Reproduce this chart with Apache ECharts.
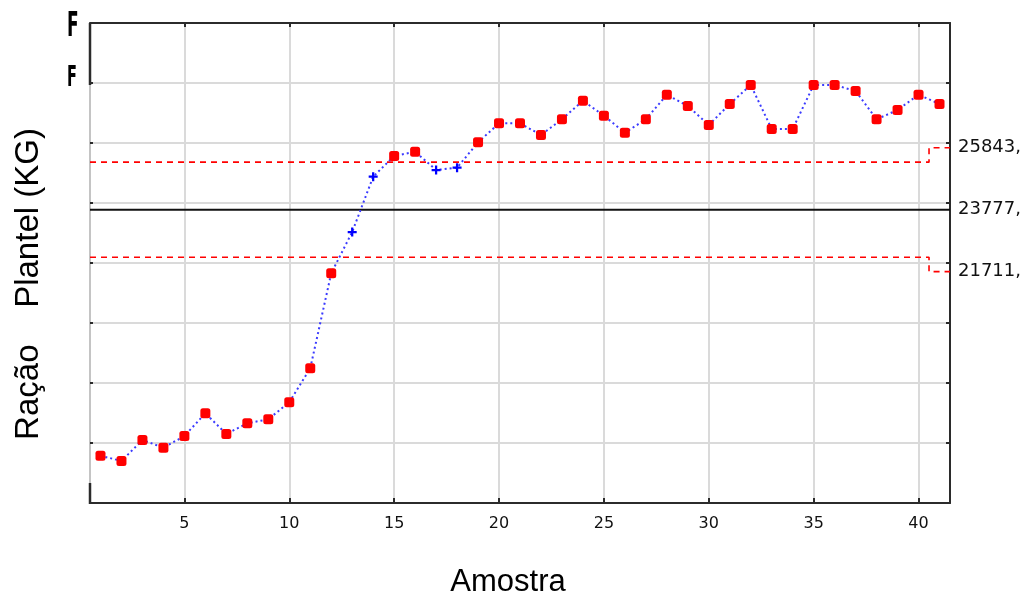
<!DOCTYPE html>
<html>
<head>
<meta charset="utf-8">
<script src="https://cdn.jsdelivr.net/npm/echarts@6/dist/echarts.min.js"></script>
<style>
  html, body { margin: 0; padding: 0; background: #ffffff; }
  #chart { width: 1026px; height: 599px; }
</style>
</head>
<body>
<div id="chart"></div>
<script>
// Sample numbers (Amostra) and the feed weight per sample (kg)
const amostra = [1, 2, 3, 4, 5, 6, 7, 8, 9, 10, 11, 12, 13, 14, 15, 16, 17, 18, 19, 20,
                 21, 22, 23, 24, 25, 26, 27, 28, 29, 30, 31, 32, 33, 34, 35, 36, 37, 38, 39, 40, 41];
const racao = [15577, 15400, 16100, 15843, 16233, 16990, 16300, 16657, 16790, 17357,
               18490, 21657, 23033, 24877, 25567, 25710, 25100, 25177, 26023, 26657,
               26657, 26267, 26790, 27410, 26910, 26343, 26790, 27610, 27233, 26600,
               27300, 27933, 26467, 26467, 27933, 27933, 27733, 26790, 27100, 27610, 27300];

// Control limits per sample (the last sample has wider limits)
const centerLine = 23777;
const upperLimit = [25362, 25362, 25362, 25362, 25362, 25362, 25362, 25362, 25362, 25362,
                    25362, 25362, 25362, 25362, 25362, 25362, 25362, 25362, 25362, 25362,
                    25362, 25362, 25362, 25362, 25362, 25362, 25362, 25362, 25362, 25362,
                    25362, 25362, 25362, 25362, 25362, 25362, 25362, 25362, 25362, 25362, 25843];
const lowerLimit = [22192, 22192, 22192, 22192, 22192, 22192, 22192, 22192, 22192, 22192,
                    22192, 22192, 22192, 22192, 22192, 22192, 22192, 22192, 22192, 22192,
                    22192, 22192, 22192, 22192, 22192, 22192, 22192, 22192, 22192, 22192,
                    22192, 22192, 22192, 22192, 22192, 22192, 22192, 22192, 22192, 22192, 21711];

// Axis ticks
const xTicks = [5, 10, 15, 20, 25, 30, 35, 40];
const limitLabels = [21711, 23777, 25843];

const PLUS = 'path://M3,0H5V3H8V5H5V8H3V5H0V3H3Z';

// Each point: red marker when outside its limits, blue cross otherwise
const points = amostra.map((n, i) => {
  const v = racao[i];
  const out = v > upperLimit[i] || v < lowerLimit[i];
  return {
    value: [n, v],
    symbol: out ? 'roundRect' : PLUS,
    symbolSize: out ? 10 : 9,
    itemStyle: { color: out ? '#ff0000' : '#0000ff' }
  };
});

// Limit lines drawn as steps spanning each sample's width
function stepLine(limits) {
  const d = [];
  amostra.forEach((n, i) => {
    d.push([n - 0.5, limits[i]]);
    d.push([n + 0.5, limits[i]]);
  });
  return d;
}

const chart = echarts.init(document.getElementById('chart'), null, { renderer: 'canvas' });

const frame = '#2b2b2b';
const gridColor = '#dadada';

chart.setOption({
  animation: false,
  backgroundColor: '#ffffff',
  grid: { left: 90, right: 76, top: 23, bottom: 96, containLabel: false },
  xAxis: [
    {
      type: 'value', position: 'bottom', min: 0.5, max: 41.5,
      axisLine: { lineStyle: { color: frame, width: 2 } },
      axisTick: { inside: true, length: 5, customValues: xTicks, lineStyle: { color: frame, width: 2 } },
      axisLabel: { customValues: xTicks, margin: 13, color: '#111', fontFamily: 'DejaVu Sans', fontSize: 16 },
      splitLine: { show: true, lineStyle: { color: gridColor, width: 2 } }
    },
    {
      type: 'value', position: 'top', min: 0.5, max: 41.5,
      axisLine: { lineStyle: { color: frame, width: 2 } },
      axisTick: { inside: true, length: 4, customValues: xTicks, lineStyle: { color: frame, width: 2 } },
      axisLabel: { show: false },
      splitLine: { show: false }
    }
  ],
  yAxis: [
    {
      type: 'value', position: 'left', min: 14000, max: 30000, interval: 2000,
      axisLine: { show: true, lineStyle: { color: '#c4c4c4', width: 2 } },
      axisTick: { show: true, inside: true, length: 3, lineStyle: { color: frame, width: 2 } },
      axisLabel: { show: false },
      splitLine: { show: true, lineStyle: { color: gridColor, width: 2 } }
    },
    {
      type: 'value', position: 'right', min: 14000, max: 30000, interval: 2000,
      axisLine: { show: true, lineStyle: { color: frame, width: 2 } },
      axisTick: { show: true, inside: true, length: 4, lineStyle: { color: frame, width: 2 } },
      axisLabel: {
        customValues: limitLabels, margin: 8, color: '#111',
        fontFamily: 'DejaVu Sans', fontSize: 18,
        formatter: v => v + ','
      },
      splitLine: { show: false }
    }
  ],
  series: [
    {
      name: 'LSC', type: 'line', data: stepLine(upperLimit), symbol: 'none', silent: true,
      lineStyle: { color: '#ff0000', width: 1.6, type: [6, 5] }, z: 2
    },
    {
      name: 'LIC', type: 'line', data: stepLine(lowerLimit), symbol: 'none', silent: true,
      lineStyle: { color: '#ff0000', width: 1.6, type: [6, 5] }, z: 2
    },
    {
      name: 'Média', type: 'line', data: [[0.5, centerLine], [41.5, centerLine]], symbol: 'none', silent: true,
      lineStyle: { color: '#111111', width: 2 }, z: 2
    },
    {
      name: 'Ração', type: 'line', data: points, showSymbol: true,
      lineStyle: { color: '#3b3bff', width: 2, type: [2, 3] }, z: 3
    }
  ],
  graphic: [
    { type: 'line', shape: { x1: 90, y1: 23, x2: 90, y2: 85 }, style: { stroke: frame, lineWidth: 2.5 }, z: 10 },
    { type: 'line', shape: { x1: 90, y1: 483, x2: 90, y2: 504 }, style: { stroke: frame, lineWidth: 2.5 }, z: 10 },
    {
      type: 'text', x: 67, y: 27, scaleX: 0.5,
      style: { text: 'F', font: 'bold 34px "DejaVu Sans"', fill: '#000', verticalAlign: 'middle', align: 'left' }
    },
    {
      type: 'text', x: 67, y: 78, scaleX: 0.5,
      style: { text: 'F', font: 'bold 29px "DejaVu Sans"', fill: '#000', verticalAlign: 'middle', align: 'left' }
    },
    {
      type: 'text', x: 508, y: 582,
      style: { text: 'Amostra', font: '31px "Liberation Sans"', fill: '#000', align: 'center', verticalAlign: 'middle' }
    },
    {
      type: 'text', x: 29, y: 284, rotation: Math.PI / 2,
      style: { text: 'Ração    Plantel (KG)', font: '33px "Liberation Sans"', fill: '#000', align: 'center', verticalAlign: 'middle' }
    }
  ]
});
</script>
</body>
</html>
